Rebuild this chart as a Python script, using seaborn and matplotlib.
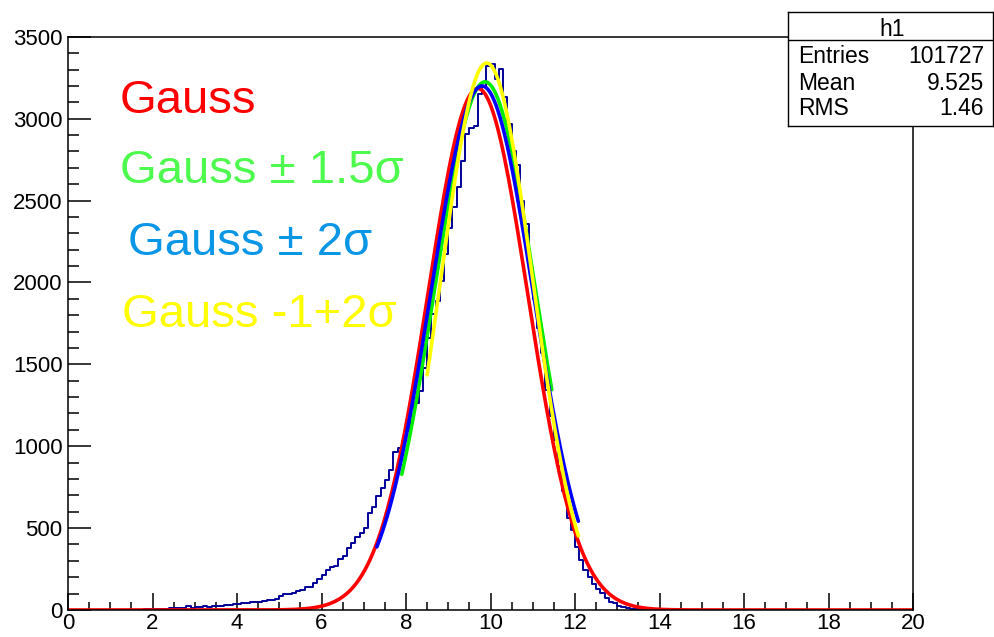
import numpy as np
import pandas as pd
import matplotlib
matplotlib.use("Agg")
import matplotlib.pyplot as plt
from matplotlib.ticker import MultipleLocator
import seaborn as sns

# ---------------- data ----------------
bin_lo, bin_hi, bin_width = 0.0, 20.0, 0.1
counts = [
    0, 0, 0, 0, 1, 0, 1, 0, 1, 1,
    1, 2, 1, 2, 2, 3, 2, 3, 4, 5,
    6, 7, 8, 8, 10, 11, 13, 12, 22, 14,
    18, 16, 22, 20, 24, 22, 26, 28, 30, 34,
    38, 41, 40, 46, 50, 48, 55, 60, 64, 70,
    88, 96, 100, 106, 118, 122, 140, 143, 167, 190,
    214, 245, 262, 268, 310, 330, 379, 410, 443, 473,
    500, 591, 632, 698, 744, 795, 857, 963, 990, 1030,
    1091, 1183, 1265, 1336, 1479, 1662, 1805, 1887, 2009, 2172,
    2335, 2458, 2580, 2743, 2906, 2943, 2957, 3150, 3195, 3320,
    3335, 3245, 3305, 3135, 2968, 2805, 2718, 2500, 2360, 2091,
    1897, 1720, 1570, 1346, 1183, 1040, 880, 724, 561, 490,
    387, 306, 245, 204, 159, 126, 102, 71, 51, 41,
    26, 16, 10, 7, 5, 3, 2, 2, 1, 1,
    1, 0, 1, 0, 0, 0, 0, 0, 0, 0,
] + [0] * 50

# Gaussian fit results: names, amplitude, mean, sigma, fit range
fit_names = ["Gauss", "Gauss ± 1.5σ", "Gauss ± 2σ", "Gauss -1+2σ"]
fit_amp = [3185, 3225, 3200, 3340]
fit_mean = [9.70, 9.87, 9.80, 9.91]
fit_sigma = [1.18, 1.195, 1.21, 1.085]
fit_lo = [0.0, 7.90, 7.31, 8.50]
fit_hi = [20.0, 11.45, 12.08, 12.08]
fit_line_colors = ["#ff0000", "#00ee00", "#0000ff", "#ffff00"]
label_colors = ["#ff0000", "#4dfa4d", "#0a96e6", "#ffff00"]

stats_title = "h1"
stats_labels = ["Entries", "Mean", "RMS"]
stats_values = ["101727", "9.525", "1.46"]

x_ticks = [0, 2, 4, 6, 8, 10, 12, 14, 16, 18, 20]
y_ticks = [0, 500, 1000, 1500, 2000, 2500, 3000, 3500]

# ---------------- figure ----------------
sns.set_theme(style="white")
plt.rcParams["font.family"] = ["Liberation Sans", "DejaVu Sans"]

W, H = 994, 637
fig = plt.figure(figsize=(W / 100, H / 100), dpi=100)
fig.patch.set_facecolor("white")

ax_l, ax_r, ax_t, ax_b = 68, 913, 36.5, 610
ax = fig.add_axes([ax_l / W, 1 - ax_b / H, (ax_r - ax_l) / W, (ax_b - ax_t) / H])
ax.set_facecolor("white")

n_bins = len(counts)
centers = [bin_lo + bin_width * (i + 0.5) for i in range(n_bins)]
df = pd.DataFrame({"x": centers, "count": counts})
sns.histplot(data=df, x="x", weights="count", binwidth=bin_width,
             binrange=(bin_lo, bin_hi), element="step",
             fill=False, color="#000099", linewidth=1.4, ax=ax)

for a, m, s, lo, hi, c in zip(fit_amp, fit_mean, fit_sigma, fit_lo, fit_hi, fit_line_colors):
    xs = np.linspace(lo, hi, 400)
    ys = a * np.exp(-0.5 * ((xs - m) / s) ** 2)
    sns.lineplot(x=xs, y=ys, color=c, linewidth=2.6, ax=ax, sort=False)

ax.set_xlim(0, 20)
ax.set_ylim(0, 3502)
ax.set_xticks(x_ticks)
ax.set_yticks(y_ticks)
ax.xaxis.set_minor_locator(MultipleLocator(0.5))
ax.yaxis.set_minor_locator(MultipleLocator(100))
ax.set_xticklabels([str(v) for v in x_ticks])
ax.set_yticklabels([str(v) for v in y_ticks])
ax.tick_params(axis="x", which="major", direction="in", length=12, width=1.1,
               color="black", labelsize=16, pad=2, labelcolor="black", bottom=True, top=False)
ax.tick_params(axis="x", which="minor", direction="in", length=6, width=1.1,
               color="black", bottom=True, top=False)
ax.tick_params(axis="y", which="major", direction="in", length=16.5, width=1.1,
               color="black", labelsize=16, pad=4, labelcolor="black", left=True, right=False)
ax.tick_params(axis="y", which="minor", direction="in", length=8, width=1.1,
               color="black", left=True, right=False)
ax.set_xlabel("")
ax.set_ylabel("")
for sp in ax.spines.values():
    sp.set_visible(True)
    sp.set_color("black")
    sp.set_linewidth(1.1)
ax.grid(False)

# legend-like labels
label_x = [120, 120, 128, 122]
label_base = [113, 183, 255, 327]
for name, col, lx, ly in zip(fit_names, label_colors, label_x, label_base):
    fig.text(lx / W, 1 - ly / H, name, color=col, fontsize=34, ha="left", va="baseline")

# stats box
bx0, bx1, by0, by1 = 788, 993, 11.7, 126
sax = fig.add_axes([bx0 / W, 1 - by1 / H, (bx1 - bx0) / W, (by1 - by0) / H])
sax.set_xlim(0, 1)
sax.set_ylim(0, 1)
sax.set_xticks([])
sax.set_yticks([])
sax.set_facecolor("white")
for sp in sax.spines.values():
    sp.set_visible(True)
    sp.set_color("black")
    sp.set_linewidth(1.0)
sax.axhline(0.752, color="black", linewidth=1.0)
sax.text(0.51, 0.846, stats_title, ha="center", va="center", fontsize=16.5, color="black")
row_y = [0.606, 0.376, 0.149]
for lab, val, ry in zip(stats_labels, stats_values, row_y):
    sax.text(0.05, ry, lab, ha="left", va="center", fontsize=16.5, color="black")
    sax.text(0.956, ry, val, ha="right", va="center", fontsize=16.5, color="black")

fig.savefig("out.png", dpi=100, facecolor="white")
